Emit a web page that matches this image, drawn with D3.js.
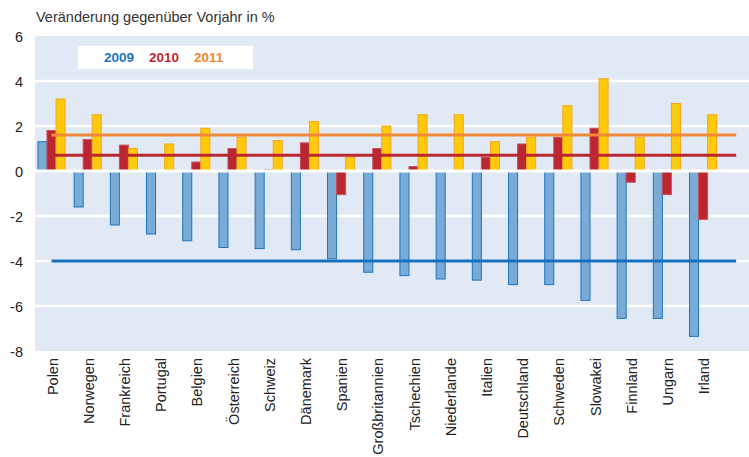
<!DOCTYPE html>
<html>
<head>
<meta charset="utf-8">
<script src="https://cdn.jsdelivr.net/npm/d3@7"></script>
<style>
  body { margin: 0; background: #fff; }
  text { font-family: "Liberation Sans", Arial, sans-serif; }
</style>
</head>
<body>
<div id="chart"></div>
<script>
const countries = ["Polen", "Norwegen", "Frankreich", "Portugal", "Belgien", "Österreich", "Schweiz",
  "Dänemark", "Spanien", "Großbritannien", "Tschechien", "Niederlande", "Italien", "Deutschland",
  "Schweden", "Slowakei", "Finnland", "Ungarn", "Irland"];
const years = ["2009", "2010", "2011"];
const v2009 = [1.3, -1.6, -2.4, -2.8, -3.1, -3.4, -3.45, -3.5, -3.9, -4.5, -4.65, -4.8, -4.85, -5.05, -5.05, -5.75, -6.55, -6.55, -7.35];
const v2010 = [1.8, 1.4, 1.15, 0, 0.4, 1.0, 0.05, 1.25, -1.05, 1.0, 0.2, 0, 0.6, 1.2, 1.5, 1.9, -0.5, -1.05, -2.15];
const v2011 = [3.2, 2.5, 1.0, 1.2, 1.9, 1.5, 1.35, 2.2, 0.6, 2.0, 2.5, 2.5, 1.3, 1.5, 2.9, 4.1, 1.5, 3.0, 2.5];
const averages = [-4.0, 0.7, 1.6];
const yTicks = [6, 4, 2, 0, -2, -4, -6, -8];

const series = [v2009, v2010, v2011];
const fills = ["#7aaad6", "#bb2730", "#ffc90c"];
const strokes = ["#1a76c0", "#c9505a", "#f4a51c"];
const lineColors = ["#1670bd", "#bb2730", "#f08a3a"];
const legendColors = ["#1a76c0", "#c0282e", "#f08a30"];

const width = 749, height = 457;
const svg = d3.select("#chart").append("svg")
  .attr("width", width)
  .attr("height", height);

const plotLeft = 35, plotRight = 749, plotTop = 36, plotBottom = 351;

const y = d3.scaleLinear().domain([-8, 6]).range([plotBottom, plotTop]);
const x = d3.scaleBand().domain(countries).range([33.4, 721.2]).paddingInner(0.25).paddingOuter(0.125);
const xs = d3.scaleBand().domain(years).range([0, x.bandwidth()]);

// title
svg.append("text").attr("x", 36).attr("y", 22).text("Veränderung gegenüber Vorjahr in %")
  .style("font-size", "14.5px").attr("fill", "#333");

// background
svg.append("rect").attr("x", plotLeft).attr("y", plotTop).attr("width", plotRight - plotLeft)
  .attr("height", plotBottom - plotTop).attr("fill", "#e1e9f4");

// grid
svg.append("g").selectAll("line").data(yTicks.filter(d => d !== 6 && d !== -8 && d !== 0)).join("line")
  .attr("x1", plotLeft).attr("x2", plotRight)
  .attr("y1", d => y(d)).attr("y2", d => y(d))
  .attr("stroke", "#fff").attr("stroke-width", 2.5);

// y labels
svg.append("g").selectAll("text").data(yTicks).join("text")
  .attr("x", 23).attr("y", d => y(d) + 1).attr("text-anchor", "end").attr("dy", "0.35em")
  .text(d => d).style("font-size", "14.5px").attr("fill", "#222");

// legend
svg.append("rect").attr("x", 78).attr("y", 46).attr("width", 175).attr("height", 23).attr("fill", "#fff");
svg.append("g").selectAll("text").data(years).join("text")
  .attr("x", (d, i) => 104 + i * 45).attr("y", 62)
  .text(d => d).attr("fill", (d, i) => legendColors[i])
  .style("font-size", "13.5px").style("font-weight", "bold");

// bars
series.forEach(function (vals, s) {
  svg.append("g").selectAll("rect").data(vals).join("rect")
    .attr("x", (d, i) => x(countries[i]) + xs(years[s]))
    .attr("width", xs.bandwidth())
    .attr("y", d => y(Math.max(0, d)))
    .attr("height", d => Math.abs(y(d) - y(0)))
    .attr("fill", fills[s])
    .attr("stroke", d => d === 0 ? "none" : strokes[s])
    .attr("stroke-width", 1);
});

// zero line
svg.append("line").attr("x1", plotLeft).attr("x2", plotRight).attr("y1", y(0)).attr("y2", y(0))
  .attr("stroke", "#fff").attr("stroke-width", 3);

// average lines
const lineStart = x(countries[0]) + x.bandwidth() / 2;
const lineEnd = x.range()[1] + 15;
svg.append("g").selectAll("line").data(averages).join("line")
  .attr("x1", lineStart).attr("x2", lineEnd)
  .attr("y1", d => y(d)).attr("y2", d => y(d))
  .attr("stroke", (d, i) => lineColors[i]).attr("stroke-width", 3);

// x labels
svg.append("g").selectAll("text").data(countries).join("text")
  .attr("transform", d => "translate(" + (x(d) + x.bandwidth() / 2 + 1) + ",358) rotate(-90)")
  .attr("text-anchor", "end").attr("dy", "0.35em")
  .text(d => d).style("font-size", "14.5px").attr("fill", "#222");
</script>
</body>
</html>
